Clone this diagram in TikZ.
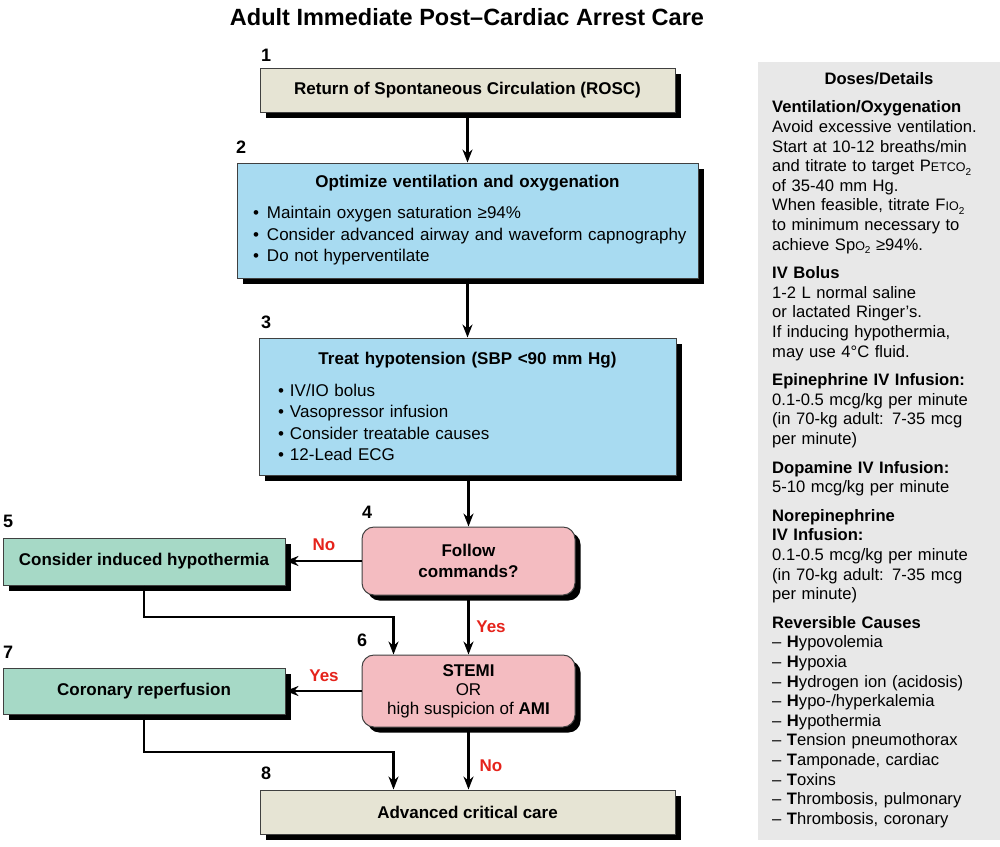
\documentclass[tikz,border=0pt]{standalone}
\usepackage{fontspec}
\setmainfont{Liberation Sans}
\usetikzlibrary{arrows.meta,shadows}
\newcommand\fs[2]{\fontsize{#1}{#2}\selectfont}
\newcommand\subtwo{\raisebox{-3.5pt}{\fontsize{10}{10}\selectfont 2}}
\newcommand\smc[1]{{\fontsize{12.5}{12.5}\selectfont #1}}
\newcommand\bul[2]{\mbox{\makebox[#1][l]{\textbullet}#2}}
\definecolor{beige}{HTML}{E6E4D4}
\definecolor{skyb}{HTML}{A8DBF1}
\definecolor{mint}{HTML}{A6D9C6}
\definecolor{pinkb}{HTML}{F4BCC1}
\definecolor{panel}{HTML}{E8E8E8}
\definecolor{redt}{HTML}{E5231B}
\tikzset{
  boxbase/.style={draw=black!75, line width=1pt, inner sep=0pt,
    drop shadow={shadow xshift=5.5pt, shadow yshift=-5.5pt, fill=black, opacity=1},
    font=\fs{17}{21.5}},
  beigebox/.style={boxbase, fill=beige, font=\fs{17}{21.5}\bfseries},
  bluebox/.style={boxbase, fill=skyb, align=center},
  greenbox/.style={boxbase, fill=mint, font=\fs{17}{21.5}\bfseries},
  pinkbox/.style={boxbase, fill=pinkb, rounded corners=12pt, align=center},
  numlbl/.style={anchor=west, inner sep=0pt, font=\fs{18}{18}\bfseries},
  redlbl/.style={inner sep=0pt, text=redt, font=\fs{17}{17}\bfseries},
  arr/.style={-{Stealth[length=13pt,width=10pt]}, line width=2.2pt}
}
\begin{document}
\begin{tikzpicture}[x=1pt,y=-1pt]
\useasboundingbox (0,0) rectangle (1000,846);
% title
\node[anchor=base, inner sep=0pt, font=\fs{23.5}{23.5}\bfseries] (title) at (467,25) {Adult Immediate Post--Cardiac Arrest Care};
% right panel
\fill[panel] (758,62) rectangle (1000,840);
\node[inner sep=0pt, font=\fs{16.6}{16.6}\bfseries] (dd) at (879,79) {Doses/Details};
\node[anchor=north west, inner sep=0pt, text width=226pt, align=left, font=\fs{16.6}{19.6}] (details) at (772,99) {%
\strut\textbf{Ventilation/Oxygenation}\\
Avoid excessive ventilation.\\
Start at 10-12 breaths/min\\
and titrate to target P\smc{ETCO}\subtwo\\
of 35-40 mm Hg.\\
When feasible, titrate F\smc{IO}\subtwo\\
to minimum necessary to\\
achieve Sp\smc{O}\subtwo{} ≥94\%.\\[9pt]
\textbf{IV Bolus}\\
1-2 L normal saline\\
or lactated Ringer's.\\
If inducing hypothermia,\\
may use 4°C fluid.\\[9pt]
\textbf{Epinephrine IV Infusion:}\\
0.1-0.5 mcg/kg per minute\\
(in 70-kg adult: 7-35 mcg\\
per minute)\\[9pt]
\textbf{Dopamine IV Infusion:}\\
5-10 mcg/kg per minute\\[9pt]
\textbf{Norepinephrine}\\
\textbf{IV Infusion:}\\
0.1-0.5 mcg/kg per minute\\
(in 70-kg adult: 7-35 mcg\\
per minute)\\[9pt]
\textbf{Reversible Causes}\\
– \textbf{H}ypovolemia\\
– \textbf{H}ypoxia\\
– \textbf{H}ydrogen ion (acidosis)\\
– \textbf{H}ypo-/hyperkalemia\\
– \textbf{H}ypothermia\\
– \textbf{T}ension pneumothorax\\
– \textbf{T}amponade, cardiac\\
– \textbf{T}oxins\\
– \textbf{T}hrombosis, pulmonary\\
– \textbf{T}hrombosis, coronary};
% boxes
\node[beigebox, minimum width=415pt, minimum height=44pt] (b1) at (467.5,90) {Return of Spontaneous Circulation (ROSC)};
\node[bluebox, minimum width=461pt, minimum height=115pt, text width=429pt] (b2) at (467.5,220.5) {%
\textbf{Optimize ventilation and oxygenation}\\[14pt]
\parbox{429pt}{\raggedright
\bul{14pt}{Maintain oxygen saturation ≥94\%}\\
\bul{14pt}{Consider advanced airway and waveform capnography}\\
\bul{14pt}{Do not hyperventilate}}};
\node[bluebox, minimum width=417pt, minimum height=137pt, text width=379pt] (b3) at (467.5,406.5) {%
\textbf{Treat hypotension (SBP <90 mm Hg)}\\[15pt]
\parbox{379pt}{\raggedright
\bul{12pt}{IV/IO bolus}\\
\bul{12pt}{Vasopressor infusion}\\
\bul{12pt}{Consider treatable causes}\\
\bul{12pt}{12-Lead ECG}}};
\node[pinkbox, minimum width=213pt, minimum height=68pt, font=\fs{17}{21}\bfseries] (b4) at (468.5,561) {Follow\\commands?};
\node[greenbox, minimum width=282pt, minimum height=47pt] (b5) at (144,561.5) {Consider induced hypothermia};
\node[pinkbox, minimum width=213pt, minimum height=72pt, font=\fs{17}{19}] (b6) at (468.5,691) {\textbf{STEMI}\\OR\\high suspicion of \textbf{AMI}};
\node[greenbox, minimum width=282pt, minimum height=46pt] (b7) at (144,691) {Coronary reperfusion};
\node[beigebox, minimum width=415pt, minimum height=44pt] (b8) at (467.5,812) {Advanced critical care};
% numbers
\node[numlbl] (n1) at (261,55) {1};
\node[numlbl] (n2) at (236,147) {2};
\node[numlbl] (n3) at (261,322) {3};
\node[numlbl] (n4) at (362,512) {4};
\node[numlbl] (n5) at (3,521) {5};
\node[numlbl] (n6) at (357,640) {6};
\node[numlbl] (n7) at (3,652) {7};
\node[numlbl] (n8) at (261,773) {8};
% connectors
\draw[arr] (b1) -- (b2);
\draw[arr] (b2) -- (b3);
\draw[arr] (b3.south -| b4.north) -- (b4);
\draw[arr] (b4.west) -- (b4.west -| b5.east);
\draw[arr] (b4) -- (b6);
\draw[arr] (b5.south) -- (b5.south |- 0,617) -| ([xshift=-75pt]b6.north);
\draw[arr] (b6.west) -- (b6.west -| b7.east);
\draw[arr] (b6.south) -- (b6.south |- b8.north);
\draw[arr] (b7.south) -- (b7.south |- 0,752) -| ([xshift=-74pt]b8.north);
% labels
\node[redlbl] (no1) at (324,545) {No};
\node[redlbl] (yes1) at (491,627) {Yes};
\node[redlbl] (yes2) at (324,676) {Yes};
\node[redlbl] (no2) at (491,766) {No};
\end{tikzpicture}
\end{document}
